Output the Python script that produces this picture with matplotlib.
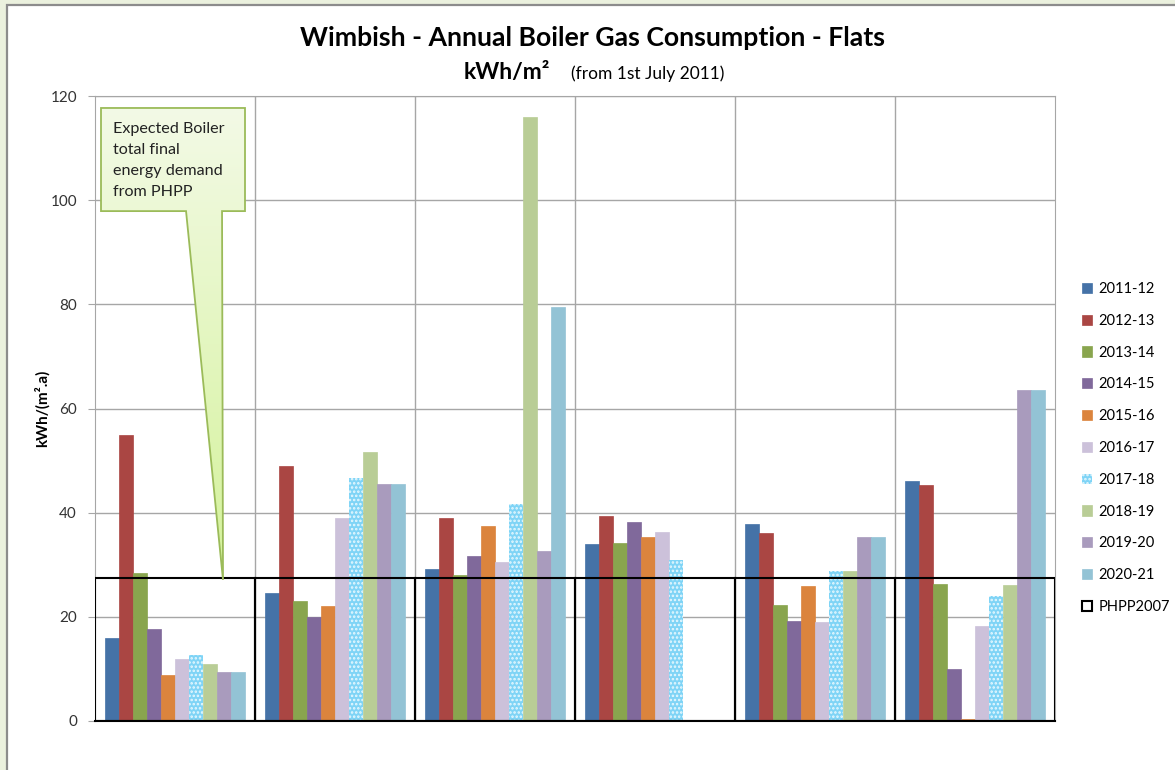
import numpy as np
import matplotlib
matplotlib.use("Agg")
import matplotlib.pyplot as plt
from matplotlib.patches import Polygon, Rectangle
from matplotlib.colors import LinearSegmentedColormap

plt.rcParams['font.family'] = ['Lato', 'DejaVu Sans']
plt.rcParams['hatch.linewidth'] = 1.2

# data
years = ['2011-12', '2012-13', '2013-14', '2014-15', '2015-16',
         '2016-17', '2017-18', '2018-19', '2019-20', '2020-21']
colors = ['#4572A7', '#AA4643', '#89A54E', '#80699B', '#DB843D',
          '#CCC1DA', '#7FD4F6', '#B9CD96', '#A99BBD', '#93C3D5']

flat1 = [16.0, 55.0, 28.5, 17.7, 8.8, 12.0, 12.7, 10.9, 9.4, 9.4]
flat2 = [24.6, 49.0, 23.0, 20.0, 22.0, 38.9, 46.7, 51.7, 45.5, 45.5]
flat3 = [29.2, 38.9, 28.1, 31.7, 37.5, 30.5, 41.7, 116.0, 32.7, 79.5]
flat4 = [34.0, 39.3, 34.2, 38.3, 35.3, 36.2, 30.9, np.nan, np.nan, np.nan]
flat5 = [37.9, 36.1, 22.2, 19.2, 26.0, 19.1, 28.8, 28.8, 35.4, 35.4]
flat6 = [46.1, 45.3, 26.4, 9.9, 0.4, 18.2, 24.0, 26.2, 63.5, 63.5]
flats = [flat1, flat2, flat3, flat4, flat5, flat6]

phpp2007 = 27.4

values = np.array(flats)  # shape (groups, years)
n_groups = values.shape[0]
n_years = values.shape[1]

fig = plt.figure(figsize=(11.75, 7.7), dpi=100)
fig.patch.set_facecolor('#EBF1DE')
# white chart area with grey border (runs past the right / bottom edges)
frame = Rectangle((7 / 1175, -0.1), 1.2, 1 - 5 / 770 + 0.1, transform=fig.transFigure,
                  facecolor='white', edgecolor='#8c8c8c', linewidth=1.6, zorder=-5)
fig.patches.append(frame)

ax = fig.add_axes([95 / 1175, 49 / 770, 960 / 1175, 625 / 770])
ax.patch.set_alpha(0)

bw = 0.0869
x = np.arange(n_groups)
left0 = x - bw * n_years / 2
for i in range(n_years):
    if years[i] == '2017-18':
        ax.bar(left0 + (i + 0.5) * bw, values[:, i], width=bw, color=colors[i],
               edgecolor='#E8F8FE', hatch='....', linewidth=0, label=years[i], zorder=2)
    else:
        ax.bar(left0 + (i + 0.5) * bw, values[:, i], width=bw, color=colors[i],
               edgecolor=colors[i], linewidth=0.5, label=years[i], zorder=2)

# PHPP expectation drawn as open bars across each group
ax.bar(x, [phpp2007] * n_groups, width=1.0, facecolor='none', edgecolor='black',
       linewidth=1.5, label='PHPP2007', zorder=3)

ax.set_xlim(-0.5, n_groups - 0.5)
ax.set_ylim(0, 120)
ax.set_yticks(np.arange(0, 121, 20))
ax.set_xticks([])
ax.set_axisbelow(True)
ax.yaxis.grid(True, color='#a6a6a6', linewidth=1)
for b in np.arange(0.5, n_groups - 0.5, 1):
    ax.axvline(b, color='#a6a6a6', linewidth=1, zorder=0)
for s in ['top', 'right', 'left']:
    ax.spines[s].set_color('#a6a6a6')
ax.spines['bottom'].set_color('black')
ax.spines['bottom'].set_linewidth(1.5)
ax.tick_params(axis='y', colors='#a6a6a6', length=5, labelsize=11, labelcolor='#333333', pad=8)
ax.set_ylabel('kWh/(m\u00b2.a)', fontsize=11, fontweight='bold')
ax.yaxis.set_label_coords(-0.047, 0.5)

# callout box
box_l, box_r, box_t, box_b = -0.4625, 0.4375, 117.7, 97.9
verts = [(box_l, box_t), (box_r, box_t), (box_r, box_b), (0.294, box_b),
         (0.300, 27.1), (0.069, box_b), (box_l, box_b)]
callout = Polygon(verts, closed=True, facecolor='none', edgecolor='#9BBB59',
                  linewidth=1.3, zorder=5)
ax.add_patch(callout)
grad = np.linspace(0, 1, 256).reshape(-1, 1)
cmap = LinearSegmentedColormap.from_list('callout', ['#F3FAE6', '#D4F29A'])
img = ax.imshow(grad, cmap=cmap, aspect='auto', extent=(box_l, box_r, 27.1, box_t),
                origin='upper', zorder=4)
img.set_clip_path(callout)
ax.set_xlim(-0.5, n_groups - 0.5)
ax.set_ylim(0, 120)
ax.text(-0.39, 115.0, 'Expected Boiler\ntotal final\nenergy demand\nfrom PHPP',
        fontsize=11.6, va='top', ha='left', linespacing=1.62, color='#222222', zorder=6)

fig.text(593 / 1175, 1 - 38 / 770, 'Wimbish - Annual Boiler Gas Consumption - Flats',
         fontsize=19.2, fontweight='bold', ha='center', va='center')
fig.text(507 / 1175, 1 - 73 / 770, 'kWh/m\u00b2', fontsize=16.5, fontweight='bold',
         ha='center', va='center')
fig.text(648 / 1175, 1 - 74 / 770, '(from 1st July 2011)', fontsize=12.5,
         ha='center', va='center')

leg = fig.legend(loc='center left', bbox_to_anchor=(1072 / 1175, 1 - 448 / 770),
                 frameon=False, fontsize=10.5, handlelength=0.7, handleheight=0.7,
                 handletextpad=0.4, labelspacing=1.22, borderpad=0.2)

fig.savefig('out.png', dpi=100, facecolor=fig.get_facecolor())
